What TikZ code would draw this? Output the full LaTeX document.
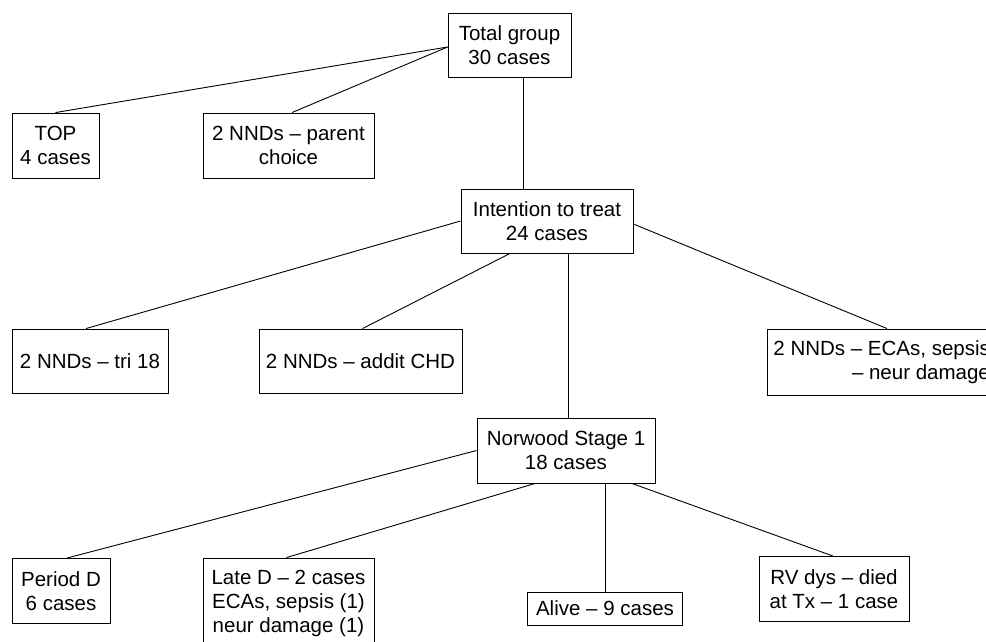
\documentclass[tikz,border=0pt]{standalone}
\usepackage{fontspec}
\setmainfont{Liberation Sans}
\begin{document}
\begin{tikzpicture}[x=1pt,y=-1pt,
  box/.style={draw, line width=0.9pt, inner sep=0pt, align=center,
    font=\fontsize{20.5}{24}\selectfont},
  conn/.style={line width=0.9pt}]
\clip (0,0) rectangle (986,641);
\fill[white] (0,0) rectangle (986,641);
% level 0
\node[box, minimum width=123pt, minimum height=64pt] (total) at (509.5,45) {Total group\\30 cases};
% level 1
\node[box, minimum width=87pt, minimum height=65pt] (top) at (55.5,145.5) {TOP\\4 cases};
\node[box, minimum width=171pt, minimum height=65pt] (parent) at (288.5,145.5) {2 NNDs -- parent\\choice};
\node[box, minimum width=172pt, minimum height=64pt] (intent) at (547,221) {Intention to treat\\24 cases};
% level 2
\node[box, minimum width=156pt, minimum height=64pt] (tri) at (90,361) {2 NNDs -- tri 18};
\node[box, minimum width=203pt, minimum height=64pt] (addit) at (360.5,361) {2 NNDs -- addit CHD};
\node[box, anchor=west, inner xsep=6pt, align=right, minimum height=66pt] (ecas) at (767,362) {2 NNDs -- ECAs, sepsis\\-- neur damage};
\node[box, minimum width=178pt, minimum height=65pt] (norwood) at (566,450.5) {Norwood Stage 1\\18 cases};
% level 3
\node[box, minimum width=98pt, minimum height=65pt] (period) at (61,591) {Period D\\6 cases};
\node[box, minimum width=171pt, minimum height=90pt] (late) at (288.5,603) {Late D -- 2 cases\\ECAs, sepsis (1)\\neur damage (1)};
\node[box, minimum width=155pt, minimum height=33pt] (alive) at (605,608.5) {Alive -- 9 cases};
\node[box, minimum width=150pt, minimum height=65pt] (rv) at (834,589) {RV dys -- died\\at Tx -- 1 case};
% connectors
\coordinate (ecastop) at (887,329);
\draw[conn] ([yshift=-2pt]total.west) -- (top.north);
\draw[conn] ([yshift=-2pt]total.west) -- ([xshift=3.5pt]parent.north);
\draw[conn] ([xshift=13.5pt]total.south) -- ([xshift=13.5pt]total.south |- intent.north);
\draw[conn] (intent.west) -- ([xshift=-4pt]tri.north);
\draw[conn] ([xshift=-37pt]intent.south) -- ([xshift=2pt]addit.north);
\draw[conn] ([yshift=-3pt]intent.east) -- (ecastop |- ecas.north);
\draw[conn] ([xshift=21pt]intent.south) -- ([xshift=21pt]intent.south |- norwood.north);
\draw[conn] (norwood.west) -- ([xshift=6pt]period.north);
\draw[conn] ([xshift=-31pt]norwood.south) -- ([xshift=-2pt]late.north);
\draw[conn] ([xshift=39pt]norwood.south) -- ([xshift=39pt]norwood.south |- alive.north);
\draw[conn] ([xshift=66pt]norwood.south) -- ([xshift=-1pt]rv.north);
\end{tikzpicture}
\end{document}
